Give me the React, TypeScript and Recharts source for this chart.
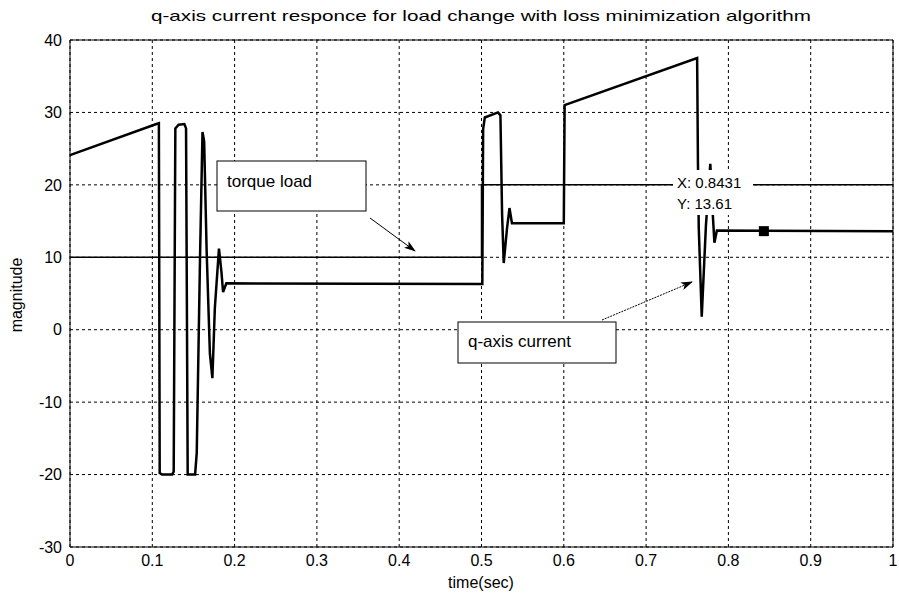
import { LineChart, Line, XAxis, YAxis, CartesianGrid, ReferenceLine, ReferenceDot } from 'recharts';

// time (sec) samples of the q-axis current trace
const currentTime = [
  0, 0.105, 0.108, 0.109, 0.112, 0.124, 0.126, 0.128, 0.132, 0.139, 0.141, 0.143, 0.152, 0.154,
  0.158, 0.161, 0.163, 0.166, 0.17, 0.173, 0.176, 0.181, 0.184, 0.186, 0.19, 0.5, 0.501, 0.502,
  0.504, 0.52, 0.523, 0.525, 0.527, 0.531, 0.534, 0.537, 0.6, 0.601, 0.762, 0.763, 0.764, 0.7676,
  0.7727, 0.778, 0.781, 0.783, 0.786, 1,
];
const currentValue = [
  24.1, 28.4, 28.5, -19.8, -20, -20, -19.6, 27.8, 28.3, 28.4, 27.8, -20, -20, -17,
  10, 27.3, 26, 11, -3.3, -6.7, 3, 11.2, 8, 5.2, 6.4, 6.3, 6.3, 27.7,
  29.3, 30, 29.6, 16, 9.2, 14, 16.8, 14.7, 14.7, 31, 37.5, 23, 14, 1.8,
  14.4, 22.9, 16, 12, 13.7, 13.6,
];

const torqueTime = [0, 0.5, 0.5, 1];
const torqueValue = [10, 10, 20, 20];

const xTicks = [0, 0.1, 0.2, 0.3, 0.4, 0.5, 0.6, 0.7, 0.8, 0.9, 1];
const yTicks = [-30, -20, -10, 0, 10, 20, 30, 40];

const tipX = 0.8431;
const tipY = 13.61;

const currentData = currentTime.map((t, i) => ({ t, v: currentValue[i] }));
const torqueData = torqueTime.map((t, i) => ({ t, v: torqueValue[i] }));

const font = '"Liberation Sans", Arial, sans-serif';

function Square(props: any) {
  const { cx, cy } = props;
  return <rect x={cx - 5} y={cy - 5} width={10} height={10} fill="#000" />;
}

export default function App() {
  return (
    <div style={{ position: 'absolute', left: 0, top: 0, width: 899, height: 602, background: '#fff' }}>
      <LineChart
        width={899}
        height={602}
        margin={{ top: 40, right: 6, bottom: 10, left: 0 }}
        style={{ fontFamily: font }}
      >
        <CartesianGrid stroke="#000" strokeDasharray="3 3" strokeWidth={1} />
        <XAxis
          dataKey="t"
          type="number"
          domain={[0, 1]}
          ticks={xTicks}
          tickFormatter={(v: number) => String(v)}
          height={45}
          tickLine={false}
          axisLine={{ stroke: '#000' }}
          tick={{ fill: '#000', fontSize: 16 }}
          allowDuplicatedCategory={false}
        />
        <YAxis
          type="number"
          domain={[-30, 40]}
          ticks={yTicks}
          width={70}
          tickLine={false}
          axisLine={{ stroke: '#000' }}
          tick={{ fill: '#000', fontSize: 16 }}
        />
        <ReferenceLine x={1} stroke="#000" />
        <ReferenceLine y={40} stroke="#000" />
        <Line
          data={torqueData}
          dataKey="v"
          type="linear"
          stroke="#000"
          strokeWidth={1.5}
          dot={false}
          isAnimationActive={false}
        />
        <Line
          data={currentData}
          dataKey="v"
          type="linear"
          stroke="#000"
          strokeWidth={2.5}
          dot={false}
          isAnimationActive={false}
        />
        <ReferenceDot x={tipX} y={tipY} r={5} shape={Square} />
      </LineChart>
      <svg
        width={899}
        height={602}
        style={{ position: 'absolute', left: 0, top: 0, pointerEvents: 'none', fontFamily: font }}
      >
        <defs>
          <marker id="ah" markerWidth="12" markerHeight="8" refX="11" refY="4" orient="auto" markerUnits="userSpaceOnUse">
            <path d="M0,0 L12,4 L0,8 L3,4 Z" fill="#000" />
          </marker>
        </defs>
        <text x={481} y={21} textAnchor="middle" fontSize={15} fill="#000" textLength={660} lengthAdjust="spacingAndGlyphs">
          q-axis current responce for load change with loss minimization algorithm
        </text>
        <text x={481} y={588} textAnchor="middle" fontSize={16} fill="#000">time(sec)</text>
        <text x={22} y={295} textAnchor="middle" fontSize={16} fill="#000" transform="rotate(-90 22 295)">magnitude</text>

        <rect x={217} y={161} width={149} height={50} fill="#fff" stroke="#000" strokeWidth={1} />
        <text x={227} y={187} fontSize={17} fill="#000">torque load</text>
        <line x1={370} y1={218} x2={415} y2={251} stroke="#000" strokeWidth={1} markerEnd="url(#ah)" />

        <rect x={458} y={322} width={158} height={41} fill="#fff" stroke="#000" strokeWidth={1} />
        <text x={468} y={347} fontSize={17} fill="#000">q-axis current</text>
        <line x1={602} y1={320} x2={692} y2={282} stroke="#000" strokeWidth={1} strokeDasharray="2 1" markerEnd="url(#ah)" />

        <rect x={673} y={170} width={80} height={45} fill="#fff" />
        <text x={677} y={188} fontSize={15} fill="#000">X: {tipX}</text>
        <text x={677} y={209} fontSize={15} fill="#000">Y: {tipY}</text>
      </svg>
    </div>
  );
}
